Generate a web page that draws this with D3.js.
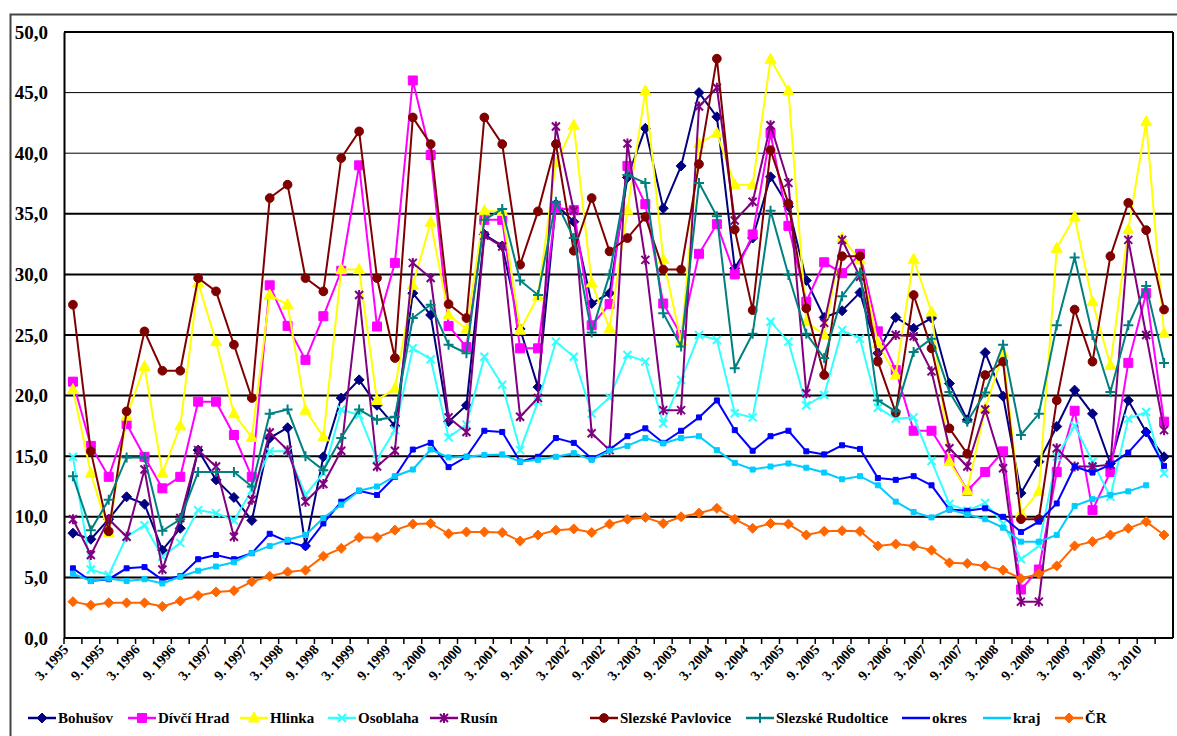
<!DOCTYPE html>
<html>
<head>
<meta charset="utf-8">
<script src="https://cdn.jsdelivr.net/npm/d3@7"></script>
<style>
  body { margin: 0; background: #fff; }
</style>
</head>
<body>
<div id="chart"></div>
<script>
// quarterly periods (month. year)
var categories = [
  "3. 1995","6. 1995","9. 1995","12. 1995","3. 1996","6. 1996","9. 1996","12. 1996",
  "3. 1997","6. 1997","9. 1997","12. 1997","3. 1998","6. 1998","9. 1998","12. 1998",
  "3. 1999","6. 1999","9. 1999","12. 1999","3. 2000","6. 2000","9. 2000","12. 2000",
  "3. 2001","6. 2001","9. 2001","12. 2001","3. 2002","6. 2002","9. 2002","12. 2002",
  "3. 2003","6. 2003","9. 2003","12. 2003","3. 2004","6. 2004","9. 2004","12. 2004",
  "3. 2005","6. 2005","9. 2005","12. 2005","3. 2006","6. 2006","9. 2006","12. 2006",
  "3. 2007","6. 2007","9. 2007","12. 2007","3. 2008","6. 2008","9. 2008","12. 2008",
  "3. 2009","6. 2009","9. 2009","12. 2009","3. 2010","6. 2010"
];
var yTicks = [0, 5, 10, 15, 20, 25, 30, 35, 40, 45, 50];

var bohusov = [8.65,8.15,9.8,11.65,11.05,7.25,9.05,15.5,13.05,11.6, 9.7,16.5,17.35,7.6,14.95,19.8,21.3,19.2,17.5,28.45,
  26.65,17.85,19.2,33.3,32.35,25.5,20.7,35.8,34.35,27.6, 28.45,38.0,42.05,35.45,38.95,45.0,43.0,30.5,33.0,38.05,
  35.6,29.5,26.45,27.0,28.5,23.5,26.45,25.55,26.4,21.0, 18.0,23.55,19.95,11.95,14.55,17.45,20.45,18.5,14.4,19.6, 17.0,14.95];
var divciHrad = [21.15,15.85,13.3,17.65,14.95,12.35,13.3,19.5,19.5,16.75, 13.3,29.1,25.75,22.95,26.55,30.3,39.0,25.7,30.95,46.0,
  39.85,25.75,24.0,34.5,34.5,23.9,23.9,35.5,35.3,25.8, 27.55,38.95,35.8,27.6,25.0,31.7,34.15,30.0,33.3,41.65,
  34.0,27.75,31.0,30.1,31.7,25.3,22.1,17.1,17.1,14.75, 12.15,13.7,15.4,4.0,5.65,13.7,18.75,10.55,13.7,22.7, 28.45,17.85];
var hlinka = [20.5,13.6,8.7,18.3,22.4,13.6,17.5,29.3,24.45,18.5, 16.55,28.3,27.5,18.8,16.6,30.4,30.4,19.6,20.6,29.1,
  34.3,26.65,25.5,35.25,35.2,25.4,28.2,39.2,42.3,29.3, 25.55,35.3,45.15,31.25,24.5,40.8,41.65,37.4,37.4,47.75,
  45.15,26.1,25.0,33.0,31.2,24.3,21.7,31.25,26.9,14.55, 12.15,18.95,23.5,10.3,12.1,32.15,34.75,27.75,22.5,33.7, 42.6,25.15];
var osoblaha = [14.95,5.65,5.2,8.35,9.3,6.7,7.85,10.55,10.3,9.7, 12.2,15.4,15.4,11.8,13.6,18.85,18.4,14.75,17.15,23.9,
  23.0,16.55,17.6,23.2,20.9,15.5,19.5,24.45,23.2,18.5, 19.85,23.35,22.8,17.7,21.3,25.0,24.6,18.55,18.2,26.1,
  24.45,19.2,20.05,25.4,24.7,19.0,18.1,18.2,14.6,11.05, 10.5,11.15,9.45,6.5,7.6,14.95,17.5,14.55,11.65,18.1, 18.65,13.6];
var rusin = [9.8,6.85,9.8,8.35,13.9,5.65,9.9,15.5,14.15,8.35, 11.4,16.95,15.5,11.25,12.7,15.45,28.3,14.15,15.45,30.95,
  29.7,18.2,17.0,33.2,32.3,18.25,19.8,42.2,35.25,16.9, 15.5,40.8,31.2,18.8,18.8,43.85,45.4,34.45,36.0,42.3,
  37.55,20.2,26.0,32.85,29.8,23.3,25.0,24.9,22.0,15.65, 14.15,18.85,14.0,3.0,3.0,15.65,14.15,14.15,14.3,32.85, 25.0,17.15];
var slezskePavlovice = [27.5,15.4,8.8,18.7,25.3,22.05,22.05,29.7,28.6,24.2, 19.8,36.3,37.4,29.7,28.6,39.6,41.8,29.7,23.1,42.95,
  40.75,27.55,26.4,42.95,40.75,30.8,35.2,40.75,31.95,36.3, 31.9,33.0,34.75,30.4,30.4,39.1,47.8,33.7,27.05,40.25,
  35.85,27.2,21.7,31.5,31.5,22.8,18.6,28.3,23.9,17.3, 15.2,21.7,22.8,9.8,9.8,19.6,27.1,22.8,31.5,35.9, 33.65,27.1];
var slezskeRudoltice = [13.35,8.9,11.4,14.9,14.9,8.85,9.8,13.7,13.7,13.7, 12.5,18.5,18.85,15.0,13.85,16.5,18.85,18.0,18.25,26.4,
  27.5,24.2,23.5,34.5,35.4,29.5,28.3,36.0,33.0,25.2, 30.0,38.2,37.55,26.8,24.05,37.55,34.8,22.25,25.1,35.25,
  29.95,25.1,23.1,28.2,30.15,19.6,18.7,23.6,24.7,20.3, 17.85,20.25,24.2,16.75,18.5,25.8,31.4,25.0,20.3,25.8, 29.05,22.7];
var okres = [5.75,4.7,4.85,5.75,5.85,4.8,5.1,6.5,6.85,6.5, 7.0,8.6,7.95,7.55,9.45,11.25,12.15,11.8,13.3,15.55,
  16.1,14.1,14.95,17.1,17.0,14.55,14.95,16.5,16.1,14.8, 15.55,16.65,17.3,16.1,17.1,18.2,19.6,17.15,15.45,16.65,
  17.1,15.4,15.15,15.9,15.6,13.2,13.05,13.35,12.6,10.6, 10.5,10.7,10.0,8.75,9.6,11.1,14.15,13.65,14.3,15.3, 16.95,14.2];
var kraj = [5.3,4.7,4.9,4.7,4.85,4.5,5.05,5.55,5.9,6.25, 7.0,7.6,8.1,8.5,9.9,11.0,12.15,12.5,13.35,13.9,
  15.55,14.9,14.95,15.1,15.15,14.55,14.7,14.95,15.25,14.7, 15.45,15.85,16.5,16.05,16.5,16.65,15.5,14.45,13.9,14.15,
  14.4,14.05,13.65,13.1,13.35,12.6,11.25,10.4,9.95,10.6, 10.2,9.8,9.1,7.95,7.95,8.5,10.9,11.45,11.8,12.1, 12.6,null];
var cr = [3.0,2.7,2.9,2.9,2.9,2.6,3.05,3.5,3.8,3.9, 4.65,5.1,5.45,5.6,6.75,7.4,8.3,8.3,8.9,9.4,
  9.45,8.6,8.75,8.75,8.7,8.0,8.5,8.9,9.0,8.7, 9.4,9.8,9.95,9.45,10.0,10.3,10.7,9.8,9.05,9.45,
  9.4,8.5,8.8,8.85,8.8,7.6,7.75,7.6,7.25,6.2, 6.15,5.95,5.6,4.9,5.3,5.95,7.6,7.95,8.5,9.05, 9.6,8.5];

var seriesNames = ["Bohušov","Dívčí Hrad","Hlinka","Osoblaha","Rusín","Slezské Pavlovice","Slezské Rudoltice","okres","kraj","ČR"];
var seriesValues = [bohusov, divciHrad, hlinka, osoblaha, rusin, slezskePavlovice, slezskeRudoltice, okres, kraj, cr];
var seriesColors = ["#000080","#FF00FF","#FFFF00","#33FFFF","#800080","#800000","#008080","#0000FF","#00CCFF","#FF6600"];
var seriesMarkers = ["diamond","square","triangle","x","asterisk","circle","plus","smallsquare","smallsquare","diamond"];
// legend entry start positions (px)
var legendX = [28, 128, 240, 328, 430, 590, 746, 902, 983, 1055];

var W = 1177, H = 736;
var margin = {left: 64, right: 4, top: 32, bottom: 98};
var FONT = '"Liberation Serif", "Times New Roman", "DejaVu Serif", serif';

var svg = d3.select('#chart').append('svg')
    .attr('width', W)
    .attr('height', H)
    .attr('font-family', FONT);

// outer frame
svg.append('rect')
    .attr('x', 10.5).attr('y', 14.5)
    .attr('width', W + 20).attr('height', H + 20)
    .attr('fill', 'none')
    .attr('stroke', '#444')
    .attr('stroke-width', 2);

var x = d3.scaleBand().domain(categories).range([margin.left, W - margin.right]);
var y = d3.scaleLinear().domain([0, 50]).range([H - margin.bottom, margin.top]);

// grid lines
svg.append('g').selectAll('line')
    .data(yTicks)
    .enter()
    .append('line')
    .attr('x1', margin.left).attr('x2', W - margin.right)
    .attr('y1', d => y(d)).attr('y2', d => y(d))
    .attr('stroke', '#000')
    .attr('stroke-width', d => (d === 40 || d === 45) ? 1 : 2);

// right border of plot
svg.append('line')
    .attr('x1', W - margin.right).attr('x2', W - margin.right)
    .attr('y1', margin.top).attr('y2', y(0))
    .attr('stroke', '#000').attr('stroke-width', 2);

// y axis
var yAxis = d3.axisLeft(y).tickValues(yTicks).tickSize(0).tickPadding(16)
    .tickFormat(d => d3.format('.1f')(d).replace('.', ','));
var gy = svg.append('g')
    .attr('transform', 'translate(' + margin.left + ',0)')
    .call(yAxis);
gy.attr('font-family', null);
gy.select('.domain').attr('stroke', '#000').attr('stroke-width', 2);
gy.selectAll('text')
    .style('font-family', FONT)
    .style('font-weight', 'bold')
    .style('font-size', '19px');

// x axis
var xAxis = d3.axisBottom(x).tickSize(0).tickFormat((d, i) => i % 2 === 0 ? d : '');
var gx = svg.append('g')
    .attr('transform', 'translate(0,' + y(0) + ')')
    .call(xAxis);
gx.attr('font-family', null);
gx.select('.domain').remove();
gx.selectAll('text')
    .style('font-family', FONT)
    .style('font-weight', 'bold')
    .style('font-size', '14px')
    .attr('text-anchor', 'end')
    .attr('dy', 0)
    .attr('transform', 'translate(-6,10) rotate(-48)');

// tick marks between categories
svg.append('g').selectAll('line')
    .data(categories)
    .enter()
    .append('line')
    .attr('x1', d => x(d)).attr('x2', d => x(d))
    .attr('y1', y(0)).attr('y2', y(0) + 6)
    .attr('stroke', '#000').attr('stroke-width', 1.5);

function markerPath(type) {
    switch (type) {
        case 'diamond': return 'M0,-5L5,0L0,5L-5,0Z';
        case 'square': return 'M-4.5,-4.5H4.5V4.5H-4.5Z';
        case 'smallsquare': return 'M-2.5,-2.5H2.5V2.5H-2.5Z';
        case 'triangle': return 'M0,-6L5.5,4L-5.5,4Z';
        case 'circle': return d3.symbol(d3.symbolCircle, 60)();
        case 'x': return 'M-4,-4L4,4M-4,4L4,-4';
        case 'plus': return 'M-5,0H5M0,-5V5';
        case 'asterisk': return 'M-4,-4L4,4M-4,4L4,-4M0,-5V5';
    }
}
function isStroke(type) { return type === 'x' || type === 'plus' || type === 'asterisk'; }

var cx = d => x(d) + x.bandwidth() / 2;

var line = d3.line()
    .defined(d => d.v !== null)
    .x(d => cx(d.c))
    .y(d => y(d.v));

var plot = svg.append('g');
seriesValues.forEach(function (vals, s) {
    var pts = categories.map((c, i) => ({c: c, v: vals[i]}));
    var g = plot.append('g');
    g.append('path')
        .datum(pts)
        .attr('d', line)
        .attr('fill', 'none')
        .attr('stroke', seriesColors[s])
        .attr('stroke-width', 2);
    var type = seriesMarkers[s];
    g.selectAll('path.m')
        .data(pts.filter(d => d.v !== null))
        .enter()
        .append('path')
        .attr('class', 'm')
        .attr('d', markerPath(type))
        .attr('transform', d => 'translate(' + cx(d.c) + ',' + y(d.v) + ')')
        .attr('fill', isStroke(type) ? 'none' : seriesColors[s])
        .attr('stroke', seriesColors[s])
        .attr('stroke-width', isStroke(type) ? 2 : 1);
});

// legend
var legend = svg.append('g').attr('transform', 'translate(0,718)');
seriesNames.forEach(function (name, s) {
    var item = legend.append('g').attr('transform', 'translate(' + legendX[s] + ',0)');
    item.append('line')
        .attr('x1', 0).attr('x2', 28)
        .attr('stroke', seriesColors[s]).attr('stroke-width', 2.5);
    var type = seriesMarkers[s];
    if (type !== 'smallsquare') {
        item.append('path')
            .attr('d', markerPath(type))
            .attr('transform', 'translate(14,0)')
            .attr('fill', isStroke(type) ? 'none' : seriesColors[s])
            .attr('stroke', seriesColors[s])
            .attr('stroke-width', isStroke(type) ? 2 : 1);
    }
    item.append('text')
        .attr('x', 30).attr('y', 5)
        .style('font-family', FONT)
        .style('font-weight', 'bold')
        .style('font-size', '15px')
        .text(name);
});
</script>
</body>
</html>
